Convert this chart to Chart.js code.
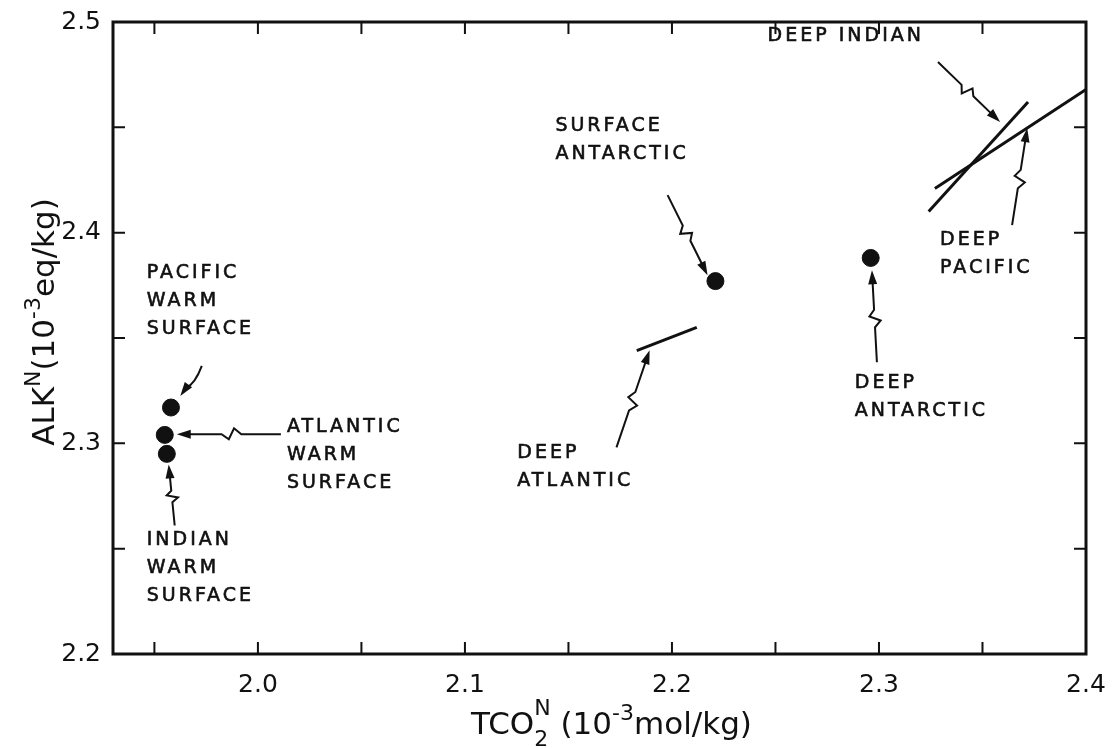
<!DOCTYPE html>
<html>
<head>
<meta charset="utf-8">
<script src="https://cdn.jsdelivr.net/npm/chart.js@4/dist/chart.umd.min.js"></script>
<style>
  body { margin: 0; background: #fff; }
  #wrap { width: 1115px; height: 749px; }
</style>
</head>
<body>
<div id="wrap"><canvas id="chart" width="1115" height="749"></canvas></div>
<script>
// tick positions (labels only on the tenths)
const xTicks = [1.95, 2.0, 2.05, 2.1, 2.15, 2.2, 2.25, 2.3, 2.35, 2.4];
const yTicks = [2.2, 2.25, 2.3, 2.35, 2.4, 2.45, 2.5];

// warm surface waters: Pacific, Atlantic, Indian
const warmTCO2 = [1.958, 1.955, 1.956];
const warmALK = [2.317, 2.304, 2.295];

// surface antarctic, deep antarctic
const antarcticTCO2 = [2.221, 2.296];
const antarcticALK = [2.377, 2.388];

// deep water trends (end points)
const deepAtlanticTCO2 = [2.183, 2.212];
const deepAtlanticALK = [2.344, 2.355];
const deepIndianTCO2 = [2.324, 2.372];
const deepIndianALK = [2.410, 2.462];
const deepPacificTCO2 = [2.327, 2.400];
const deepPacificALK = [2.421, 2.468];

// text labels, anchored in data units (left edge, first line centre)
const labels = [
    { lines: ['DEEP INDIAN'], x: 2.2462, y: 2.4935 },
    { lines: ['SURFACE', 'ANTARCTIC'], x: 2.1437, y: 2.4506 },
    { lines: ['DEEP', 'PACIFIC'], x: 2.3295, y: 2.3964 },
    { lines: ['PACIFIC', 'WARM', 'SURFACE'], x: 1.9463, y: 2.3808 },
    { lines: ['ATLANTIC', 'WARM', 'SURFACE'], x: 2.0140, y: 2.3076 },
    { lines: ['INDIAN', 'WARM', 'SURFACE'], x: 1.9463, y: 2.2539 },
    { lines: ['DEEP', 'ATLANTIC'], x: 2.1253, y: 2.2952 },
    { lines: ['DEEP', 'ANTARCTIC'], x: 2.2883, y: 2.3285 }
];

// pointer arrows, from -> to in data units, last flag = wiggly
const arrows = [
    [2.3285, 2.4810, 2.3585, 2.4525, true],
    [2.3643, 2.4036, 2.3716, 2.4496, true],
    [2.1979, 2.4178, 2.2172, 2.3798, true],
    [2.2990, 2.3385, 2.2966, 2.3822, true],
    [2.1732, 2.2981, 2.1892, 2.3442, true],
    [1.9729, 2.3368, 1.9625, 2.3225, false],
    [2.0111, 2.3043, 1.9608, 2.3043, true],
    [1.9598, 2.2610, 1.9569, 2.2900, true]
];

const ink = '#111';
const pts = (xs, ys) => xs.map((v, i) => ({ x: v, y: ys[i] }));
const isTenth = v => Math.abs(v * 10 - Math.round(v * 10)) < 1e-6;

function drawParts(ctx, parts, cx, baseY) {
    let total = 0;
    parts.forEach(p => {
        ctx.font = p.s + 'px "DejaVu Sans"';
        p.w = ctx.measureText(p.t).width;
        if (p.t2) p.w = Math.max(p.w, ctx.measureText(p.t2).width);
        total += p.w;
    });
    let x = cx - total / 2;
    ctx.textAlign = 'left';
    ctx.textBaseline = 'alphabetic';
    parts.forEach(p => {
        ctx.font = p.s + 'px "DejaVu Sans"';
        ctx.fillText(p.t, x, baseY + (p.dy || 0));
        if (p.t2) ctx.fillText(p.t2, x, baseY + p.dy2);
        x += p.w;
    });
}

function arrow(ctx, x0, y0, x1, y1, wiggle) {
    const dx = x1 - x0, dy = y1 - y0, len = Math.hypot(dx, dy);
    const ux = dx / len, uy = dy / len, nx = -uy, ny = ux;
    const at = (t, o) => [x0 + dx * t + nx * o, y0 + dy * t + ny * o];
    ctx.beginPath();
    ctx.moveTo(x0, y0);
    if (wiggle) {
        [at(0.38, 0), at(0.45, 6), at(0.5, -5), at(0.57, 0)].forEach(p => ctx.lineTo(p[0], p[1]));
        ctx.lineTo(x1 - ux * 10, y1 - uy * 10);
    } else {
        const c = at(0.5, -5);
        ctx.quadraticCurveTo(c[0], c[1], x1 - ux * 10, y1 - uy * 10);
    }
    ctx.stroke();
    ctx.beginPath();
    ctx.moveTo(x1, y1);
    ctx.lineTo(x1 - ux * 14 + nx * 4.5, y1 - uy * 14 + ny * 4.5);
    ctx.lineTo(x1 - ux * 14 - nx * 4.5, y1 - uy * 14 - ny * 4.5);
    ctx.closePath();
    ctx.fill();
}

const annotate = {
    id: 'annotate',
    afterDraw(chart) {
        const { ctx, chartArea: a, scales: { x, y } } = chart;
        ctx.save();
        ctx.strokeStyle = ink;
        ctx.fillStyle = ink;

        // frame
        ctx.lineWidth = 3;
        ctx.strokeRect(a.left, a.top, a.right - a.left, a.bottom - a.top);

        // inward ticks on all four sides
        ctx.lineWidth = 2;
        ctx.beginPath();
        xTicks.forEach(v => {
            const px = x.getPixelForValue(v);
            ctx.moveTo(px, a.bottom); ctx.lineTo(px, a.bottom - 12);
            ctx.moveTo(px, a.top); ctx.lineTo(px, a.top + 12);
        });
        yTicks.forEach(v => {
            const py = y.getPixelForValue(v);
            ctx.moveTo(a.left, py); ctx.lineTo(a.left + 12, py);
            ctx.moveTo(a.right, py); ctx.lineTo(a.right - 12, py);
        });
        ctx.stroke();

        // labels
        ctx.font = '19px "DejaVu Sans"';
        ctx.letterSpacing = '3px';
        ctx.textAlign = 'left';
        ctx.textBaseline = 'middle';
        ctx.lineWidth = 0.6;
        labels.forEach(l => {
            const lx = x.getPixelForValue(l.x), ly = y.getPixelForValue(l.y);
            l.lines.forEach((t, i) => {
                ctx.fillText(t, lx, ly + i * 28);
                ctx.strokeText(t, lx, ly + i * 28);
            });
        });
        ctx.letterSpacing = '0px';

        // arrows
        ctx.lineWidth = 2;
        arrows.forEach(r => arrow(ctx,
            x.getPixelForValue(r[0]), y.getPixelForValue(r[1]),
            x.getPixelForValue(r[2]), y.getPixelForValue(r[3]), r[4]));

        // axis titles
        drawParts(ctx, [
            { t: 'TCO', s: 31 },
            { t: '2', s: 22, dy: 12, t2: 'N', dy2: -19 },
            { t: ' (10', s: 31 },
            { t: '-3', s: 22, dy: -14 },
            { t: 'mol/kg)', s: 31 }
        ], (a.left + a.right) / 2 + 12, 734);

        ctx.translate(54, 322);
        ctx.rotate(-Math.PI / 2);
        drawParts(ctx, [
            { t: 'ALK', s: 31 },
            { t: 'N', s: 22, dy: -14 },
            { t: '(10', s: 31 },
            { t: '-3', s: 22, dy: -14 },
            { t: 'eq/kg)', s: 31 }
        ], 0, 0);
        ctx.restore();
    }
};

new Chart(document.getElementById('chart'), {
    type: 'scatter',
    data: {
        datasets: [
            { data: pts(warmTCO2, warmALK), pointRadius: 8.5, backgroundColor: ink, borderColor: ink, showLine: false },
            { data: pts(antarcticTCO2, antarcticALK), pointRadius: 8.5, backgroundColor: ink, borderColor: ink, showLine: false },
            { data: pts(deepAtlanticTCO2, deepAtlanticALK), showLine: true, pointRadius: 0, borderColor: ink, borderWidth: 3 },
            { data: pts(deepIndianTCO2, deepIndianALK), showLine: true, pointRadius: 0, borderColor: ink, borderWidth: 3 },
            { data: pts(deepPacificTCO2, deepPacificALK), showLine: true, pointRadius: 0, borderColor: ink, borderWidth: 3 }
        ]
    },
    options: {
        responsive: false,
        animation: false,
        layout: { padding: { top: 22, right: 29, left: 0, bottom: 0 } },
        plugins: { legend: { display: false }, tooltip: { enabled: false } },
        scales: {
            x: {
                type: 'linear', min: 1.93, max: 2.4,
                afterBuildTicks: s => { s.ticks = xTicks.map(v => ({ value: v })); },
                afterFit: s => { s.height = 95; },
                grid: { display: false },
                border: { display: false },
                ticks: {
                    color: ink, padding: 8, autoSkip: false, maxRotation: 0,
                    font: { family: 'DejaVu Sans', size: 25 },
                    callback: v => isTenth(v) ? v.toFixed(1) : ''
                }
            },
            y: {
                type: 'linear', min: 2.2, max: 2.5,
                afterBuildTicks: s => { s.ticks = yTicks.map(v => ({ value: v })); },
                afterFit: s => { s.width = 113; },
                grid: { display: false },
                border: { display: false },
                ticks: {
                    color: ink, padding: 4, autoSkip: false,
                    font: { family: 'DejaVu Sans', size: 25 },
                    callback: v => isTenth(v) ? v.toFixed(1) : ''
                }
            }
        }
    },
    plugins: [annotate]
});
</script>
</body>
</html>
